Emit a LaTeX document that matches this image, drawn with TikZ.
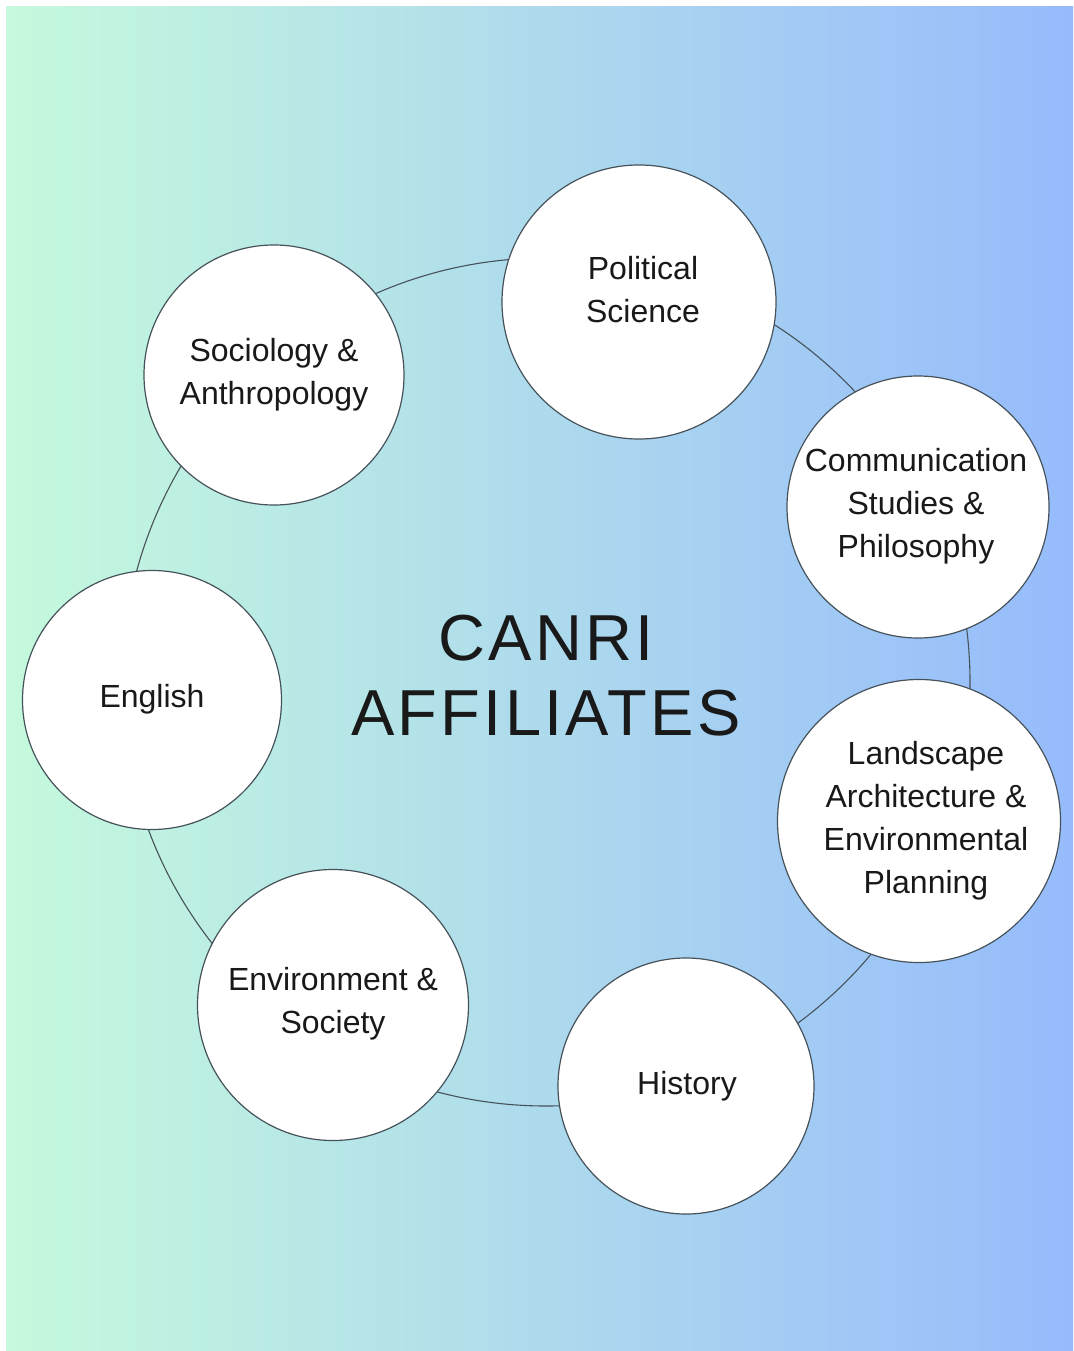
\documentclass[tikz,border=0pt]{standalone}
\usepackage{fontspec}
\setmainfont{Liberation Sans}
\newfontfamily\titlefont[LetterSpace=5]{Liberation Sans}
\definecolor{bgleft}{RGB}{197,250,221}
\definecolor{bgright}{RGB}{150,187,252}
\definecolor{edge}{RGB}{70,82,90}
\begin{document}
\begin{tikzpicture}[x=1pt,y=-1pt,
  bubble/.style={circle,draw=edge,line width=1.2pt,fill=white,inner sep=0pt},
  lbl/.style={align=center,font=\fontsize{32}{43}\selectfont,text=black!90,inner sep=0pt},
  ttl/.style={font=\titlefont\fontsize{65}{75}\selectfont,text=black!90,inner sep=0pt,anchor=base}]
\useasboundingbox (0,0) rectangle (1073,1351);
\fill[white] (0,0) rectangle (1073,1351);
\shade[left color=bgleft,right color=bgright] (6,7) rectangle (1073,1351);
% ring
\node (ring) [circle,draw=edge,line width=1.1pt,minimum size=848pt,inner sep=0pt] at (546,682) {};
% bubbles
\node (pol) [bubble,minimum size=274pt] at (639,302) {};
\node (soc) [bubble,minimum size=260pt] at (274,375) {};
\node (com) [bubble,minimum size=262pt] at (918,507) {};
\node (eng) [bubble,minimum size=259pt] at (152,700) {};
\node (lan) [bubble,minimum size=283pt] at (919,821) {};
\node (his) [bubble,minimum size=256pt] at (686,1086) {};
\node (env) [bubble,minimum size=271pt] at (333,1005) {};
% labels
\node (tpol) [lbl] at (643,290) {Political\\Science};
\node (tsoc) [lbl] at (274,375) {Sociology \&\\Anthropology};
\node (tcom) [lbl] at (916,506) {Communication\\Studies \&\\Philosophy};
\node (teng) [lbl] at (152,699) {English};
\node (tlan) [lbl] at (926,821) {Landscape\\Architecture \&\\Environmental\\Planning};
\node (this) [lbl] at (687,1086) {History};
\node (tenv) [lbl] at (333,1004) {Environment \&\\Society};
% title
\node (ta) [ttl] at (546,660) {CANRI};
\node (tb) [ttl] at (546,735) {AFFILIATES};
\end{tikzpicture}
\end{document}
